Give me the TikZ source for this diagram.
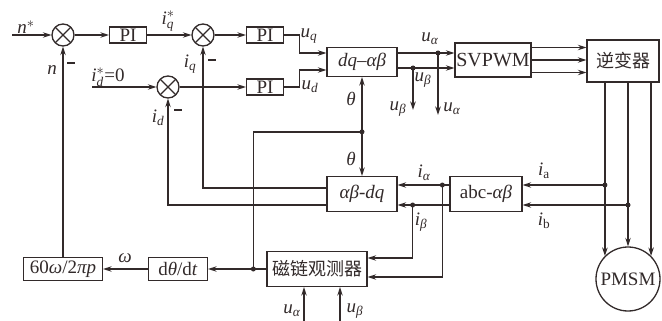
\documentclass[tikz,border=0pt]{standalone}
\usepackage{fontspec}
\usepackage{amsmath}
\setmainfont{Liberation Serif}
\newfontfamily\cjk{Noto Sans CJK SC}
\usetikzlibrary{arrows.meta,calc}
\definecolor{ink}{RGB}{50,42,42}
\newcommand\sbi[2]{\textit{#1}\textsubscript{\textit{#2}}}
\begin{document}
\begin{tikzpicture}[x=1pt,y=-1pt,
  every node/.style={font=\fontsize{19}{22}\selectfont, text=ink},
  line/.style={draw=ink, line width=1.3pt},
  arr/.style={line, -{Stealth[length=8.5pt,width=5.5pt]}},
  blk/.style={draw=ink, line width=1.3pt, inner sep=0, fill=white},
  sum/.style={circle, draw=ink, line width=1.3pt, minimum size=22pt, inner sep=0,
    path picture={\draw[ink,line width=1.3pt]
      (path picture bounding box.north west)--(path picture bounding box.south east)
      (path picture bounding box.north east)--(path picture bounding box.south west);}},
  dot/.style={circle, fill=ink, inner sep=0, minimum size=5pt},
  lab/.style={inner sep=0},
  minus/.style={inner sep=0}]
\useasboundingbox (0,0) rectangle (662,321);
% blocks
\node[sum] (s1) at (63,35) {};
\node[sum] (s2) at (203,35) {};
\node[sum] (s3) at (168,87) {};
\node[blk, minimum width=37pt, minimum height=16pt] (pi1) at (128,35) {PI};
\node[blk, minimum width=37pt, minimum height=16pt] (pi2) at (265,35) {PI};
\node[blk, minimum width=37pt, minimum height=16pt] (pi3) at (265,87) {PI};
\node[blk, minimum width=70pt, minimum height=29pt] (dqab) at (362,62) {\itshape dq–αβ};
\node[blk, minimum width=76pt, minimum height=34pt, font=\fontsize{20}{24}\selectfont] (svp) at (493,60) {SVPWM};
\node[blk, minimum width=72pt, minimum height=42pt, font=\fontsize{18}{22}\selectfont] (inv) at (623,61) {\cjk 逆变器};
\node[blk, minimum width=70pt, minimum height=35pt] (abdq) at (362,194) {\itshape αβ-dq};
\node[blk, minimum width=72pt, minimum height=35pt] (abc) at (486,194) {abc-\textit{αβ}};
\node[blk, minimum width=100pt, minimum height=35pt, font=\fontsize{18}{22}\selectfont] (flux) at (317,269) {\cjk 磁链观测器};
\node[blk, minimum width=59pt, minimum height=23pt] (dth) at (178,269) {d\textit{θ}/d\textit{t}};
\node[blk, minimum width=79pt, minimum height=23pt] (conv) at (63,269) {60\textit{ω}/2\textit{πp}};
\node[circle, draw=ink, line width=1.3pt, minimum size=64pt, inner sep=0] (pmsm) at (628,279) {PMSM};
% coordinates
\coordinate (nin) at (12,35);
\coordinate (idin) at (92,87);
\coordinate (ua) at ([yshift=9pt]dqab.east);
\coordinate (ub) at ([yshift=-6pt]dqab.east);
\node[dot] (dua) at (438,53) {};
\node[dot] (dub) at (413,68) {};
\coordinate (uaout) at (438,115);
\coordinate (ubout) at (413,110);
\path (pmsm.north west |- abc.east) ++(0,-9) coordinate (ja);
\path (pmsm.north |- abc.east) ++(0,11) coordinate (jb);
\coordinate (ia) at ([yshift=9pt]abc.west);
\coordinate (ib) at ([yshift=-11pt]abc.west);
\path (ia) ++(-7,0) coordinate (jia);
\path (ib -| abdq.east) ++(15,0) coordinate (jib);
\path (flux.west) ++(-13,0) coordinate (jt);
\path (abdq.north) ++(0,-44) coordinate (jth);
\coordinate (fua) at (304,321);
\coordinate (fub) at (340,321);
% connectors
\draw[arr] (nin) -- (s1.west);
\draw[arr] (s1.east) -- (pi1.west);
\draw[arr] (pi1.east) -- (s2.west);
\draw[arr] (s2.east) -- (pi2.west);
\draw[arr] (idin) -- (s3.west);
\draw[arr] (s3.east) -- (pi3.west);
\draw[arr] (pi2.east) -- ++(15,0) |- ([yshift=9pt]dqab.west);
\draw[arr] (pi3.east) -- ++(15,0) |- ([yshift=-8pt]dqab.west);
\draw[arr] (conv.north) -- (s1.south);
\draw[arr] ([yshift=6pt]abdq.west) -| (s2.south);
\draw[arr] ([yshift=-11pt]abdq.west) -| (s3.south);
\draw[arr] (ua) -- (ua -| svp.west);
\draw[arr] (ub) -- (ub -| svp.west);
\draw[arr] (dua.center) -- (uaout);
\draw[arr] (dub.center) -- (ubout);
\foreach \s in {12.5,0,-12.5}
  \draw[arr] ([yshift=\s pt]svp.east) -- ([yshift=\s pt]svp.east -| inv.west);
\draw[arr] (inv.south -| pmsm.north west) -- (pmsm.north west);
\draw[arr] (inv.south -| pmsm.north) -- (pmsm.north);
\draw[arr] (inv.south -| pmsm.north east) -- (pmsm.north east);
\node[dot] at (ja) {};
\node[dot] at (jb) {};
\draw[arr] (ja) -- (ja -| abc.east);
\draw[arr] (jb) -- (jb -| abc.east);
\draw[arr] (ia) -- (ia -| abdq.east);
\draw[arr] (ib) -- (ib -| abdq.east);
\node[dot] at (jia) {};
\node[dot] at (jib) {};
\draw[arr] (jia) |- ([yshift=-8pt]flux.east);
\draw[arr] (jib) |- ([yshift=11pt]flux.east);
\draw[arr] (flux.west) -- (dth.east);
\node[dot] at (jt) {};
\draw[arr] (dth.west) -- (conv.east);
\draw[line] (jt) |- (jth);
\node[dot] at (jth) {};
\draw[arr] (jth) -- (dqab.south);
\draw[arr] (jth) -- (abdq.north);
\draw[arr] (fua) -- (fua |- flux.south);
\draw[arr] (fub) -- (fub |- flux.south);
% labels
\node[lab] (l1) at (26,27) {$\textit{n}^{*}$};
\node[lab] (l2) at (168,21) {$\textit{i}^{*}_{\textit{q}}$};
\node[lab] (l3) at (108,77) {$\textit{i}^{*}_{\textit{d}}$=0};
\node[lab] (l4) at (52,70) {\textit{n}};
\node[lab] (l5) at (190,64) {\sbi{i}{q}};
\node[lab] (l6) at (158,118) {\sbi{i}{d}};
\node[lab] (l7) at (309,36) {\sbi{u}{q}};
\node[lab] (l8) at (310,87) {\sbi{u}{d}};
\node[lab] (l9) at (351,99) {\textit{θ}};
\node[lab] (l10) at (351,159) {\textit{θ}};
\node[lab] (l11) at (125,258) {\textit{ω}};
\node[lab] (l12) at (424,173) {\sbi{i}{α}};
\node[lab] (l13) at (421,222) {\sbi{i}{β}};
\node[lab] (l14) at (544,171) {\textit{i}\textsubscript{a}};
\node[lab] (l15) at (544,221) {\textit{i}\textsubscript{b}};
\node[lab] (l16) at (430,39) {\sbi{u}{α}};
\node[lab] (l17) at (423,80) {\sbi{u}{β}};
\node[lab] (l18) at (398,109) {\sbi{u}{β}};
\node[lab] (l19) at (452,109) {\sbi{u}{α}};
\node[lab] (l20) at (292,311) {\sbi{u}{α}};
\node[lab] (l21) at (355,311) {\sbi{u}{β}};
\node[minus] (m1) at (71,63) {\rule{8pt}{2.2pt}};
\node[minus] (m2) at (212,60) {\rule{8pt}{2.2pt}};
\node[minus] (m3) at (178,110) {\rule{8pt}{2.2pt}};
\end{tikzpicture}
\end{document}
